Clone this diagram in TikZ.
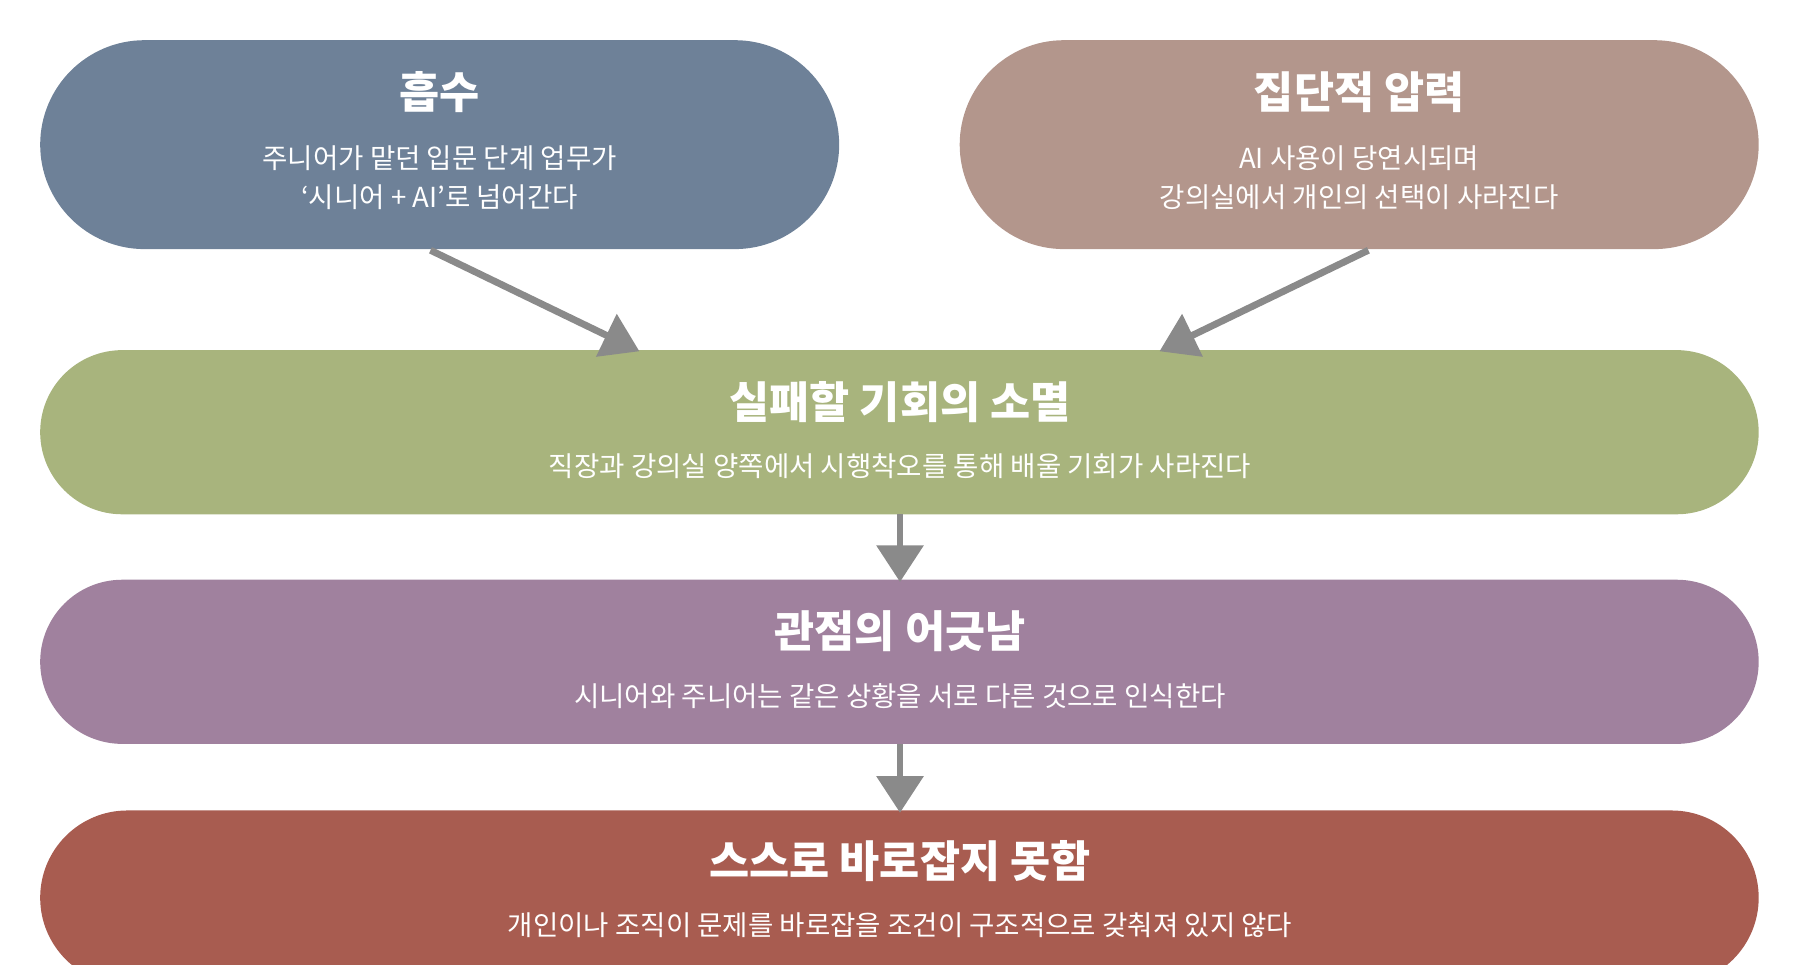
\documentclass[tikz,border=0pt]{standalone}
\usepackage{fontspec}
\setmainfont{Noto Sans CJK KR}
\usetikzlibrary{arrows.meta,calc}
\definecolor{cA}{HTML}{6E8198}
\definecolor{cB}{HTML}{B3968C}
\definecolor{cC}{HTML}{A8B47D}
\definecolor{cD}{HTML}{A0819E}
\definecolor{cE}{HTML}{A85C50}
\definecolor{ar}{HTML}{8A8A8A}
\begin{document}
\begin{tikzpicture}[x=0.5pt,y=-0.5pt,
  box/.style={draw=none,rounded corners=#1,inner sep=0pt},
  ttl/.style={font=\bfseries\fontsize{19}{22}\selectfont,text=white},
  sub/.style={font=\fontsize{12}{17}\selectfont,text=white,align=center},
  arr/.style={ar,line width=3pt,-{Triangle[width=20pt,length=16pt]}}]
\useasboundingbox (0,0) rectangle (1568,840);
\clip (0,0) rectangle (1568,840);
\fill[cA,rounded corners=45.5pt] (35,35) rectangle (731,217);
\fill[cB,rounded corners=45.5pt] (836,35) rectangle (1532,217);
\fill[cC,rounded corners=35.75pt] (35,305) rectangle (1532,448);
\fill[cD,rounded corners=35.75pt] (35,505) rectangle (1532,648);
\fill[cE,rounded corners=38pt] (35,706) rectangle (1532,858);
\node[ttl] (t1) at (383,80) {흡수};
\node[sub] (s1) at (383,155) {주니어가 맡던 입문 단계 업무가\\‘시니어 + AI’로 넘어간다};
\node[ttl] (t2) at (1184,80) {집단적 압력};
\node[sub] (s2) at (1184,155) {AI 사용이 당연시되며\\강의실에서 개인의 선택이 사라진다};
\node[ttl] (t3) at (784,350) {실패할 기회의 소멸};
\node[sub] (s3) at (784,406) {직장과 강의실 양쪽에서 시행착오를 통해 배울 기회가 사라진다};
\node[ttl] (t4) at (784,550) {관점의 어긋남};
\node[sub] (s4) at (784,606) {시니어와 주니어는 같은 상황을 서로 다른 것으로 인식한다};
\node[ttl] (t5) at (784,750) {스스로 바로잡지 못함};
\node[sub] (s5) at (784,806) {개인이나 조직이 문제를 바로잡을 조건이 구조적으로 갖춰져 있지 않다};
\coordinate (a1) at (375,218); \coordinate (b1) at (557,306);
\coordinate (a2) at (1192,218); \coordinate (b2) at (1010,306);
\coordinate (a3) at (784,448); \coordinate (b3) at (784,507);
\coordinate (a4) at (784,648); \coordinate (b4) at (784,708);
\draw[arr] (a1) -- (b1);
\draw[arr] (a2) -- (b2);
\draw[arr] (a3) -- (b3);
\draw[arr] (a4) -- (b4);
\end{tikzpicture}
\end{document}
